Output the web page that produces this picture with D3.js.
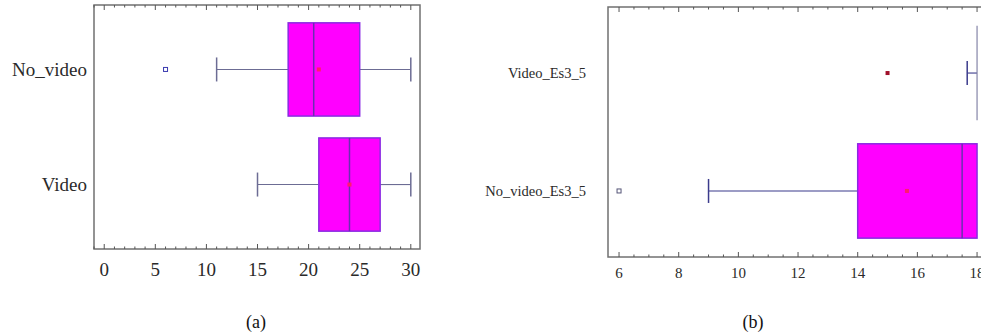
<!DOCTYPE html>
<html>
<head>
<meta charset="utf-8">
<script src="https://cdn.jsdelivr.net/npm/d3@7"></script>
<style>
  body { margin: 0; background: #fff; }
  svg { display: block; }
  svg text { font-family: "Liberation Serif", "DejaVu Serif", serif; }
</style>
</head>
<body>
<div id="chart"></div>
<script>
// panel (a)
const catsA = ["No_video", "Video"];
const minA = [11, 15];
const q1A = [18, 21];
const medA = [20.5, 24];
const q3A = [25, 27];
const maxA = [30, 30];
const meanA = [21, 24];
const outA = [[6], []];
const ticksA = [0, 5, 10, 15, 20, 25, 30];

// panel (b)
const catsB = ["Video_Es3_5", "No_video_Es3_5"];
const minB = [17.67, 9];
const q1B = [18, 14];
const medB = [18, 17.5];
const q3B = [18, 18];
const maxB = [18, 18];
const meanB = [15, 15.65];
const outB = [[], [6]];
const ticksB = [6, 8, 10, 12, 14, 16, 18];

const W = 981, H = 336;
const svg = d3.select("#chart").append("svg").attr("width", W).attr("height", H);

function panel(o) {
  const x = d3.scaleLinear().domain(o.domain).range([o.left, o.right]);
  const y = d3.scalePoint().domain(o.cats).range([o.top, o.bottom]).padding(0.56);
  const bh = y.step() * o.boxFrac;
  const g = svg.append("g");

  // frame
  g.append("rect")
    .attr("x", o.left).attr("y", o.top)
    .attr("width", o.right - o.left).attr("height", o.bottom - o.top)
    .attr("fill", "none").attr("stroke", "#707070").attr("stroke-width", 1.5);

  // inward ticks top and bottom
  const minors = d3.range(Math.ceil(o.domain[0] / o.minor) * o.minor, o.domain[1] + 1e-9, o.minor);
  [o.top, o.bottom].forEach((yy, k) => {
    const dir = k === 0 ? 1 : -1;
    g.selectAll(null).data(minors).enter().append("line")
      .attr("x1", d => x(d)).attr("x2", d => x(d))
      .attr("y1", yy).attr("y2", d => {
        const major = o.ticks.some(t => Math.abs(t - d) < 1e-6);
        return yy + dir * (major ? 5 : 2.5);
      })
      .attr("stroke", "#555").attr("stroke-width", 1);
  });

  // tick labels
  g.selectAll(null).data(o.ticks).enter().append("text")
    .attr("x", d => x(d)).attr("y", o.bottom + o.tickDy)
    .attr("text-anchor", "middle").attr("font-size", o.tickSize).attr("fill", "#2a2a2a")
    .text(d => d);

  // category labels
  g.selectAll(null).data(o.cats).enter().append("text")
    .attr("x", o.labelX).attr("y", d => y(d))
    .attr("dy", "0.35em").attr("text-anchor", "end")
    .attr("font-size", o.labelSize).attr("fill", "#2a2a2a")
    .text(d => d);

  o.cats.forEach((c, i) => {
    const cy = y(c);
    const wc = o.whisker;
    // whiskers
    g.append("line").attr("x1", x(o.min[i])).attr("x2", x(o.q1[i]))
      .attr("y1", cy).attr("y2", cy).attr("stroke", wc).attr("stroke-width", 1.1);
    g.append("line").attr("x1", x(o.q3[i])).attr("x2", x(o.max[i]))
      .attr("y1", cy).attr("y2", cy).attr("stroke", wc).attr("stroke-width", 1.1);
    [o.min[i], o.max[i]].forEach(v => {
      if (v === o.q1[i] || v === o.q3[i]) return;
      g.append("line").attr("x1", x(v)).attr("x2", x(v))
        .attr("y1", cy - o.cap).attr("y2", cy + o.cap)
        .attr("stroke", wc).attr("stroke-width", 1.5);
    });
    // box
    const bw = x(o.q3[i]) - x(o.q1[i]);
    if (bw > 0.5) {
      g.append("rect").attr("x", x(o.q1[i])).attr("y", cy - bh / 2)
        .attr("width", bw).attr("height", bh)
        .attr("fill", "#ff00ff").attr("stroke", "#8a2be2").attr("stroke-width", 1.5);
      // median
      g.append("line").attr("x1", x(o.med[i])).attr("x2", x(o.med[i]))
        .attr("y1", cy - bh / 2).attr("y2", cy + bh / 2)
        .attr("stroke", "#6a2fb0").attr("stroke-width", 1.5);
    } else {
      g.append("line").attr("x1", x(o.med[i])).attr("x2", x(o.med[i]))
        .attr("y1", cy - bh / 2).attr("y2", cy + bh / 2)
        .attr("stroke", "#7a7aa0").attr("stroke-width", 1.1);
    }
    // mean
    const inBox = o.mean[i] >= o.q1[i] && o.mean[i] <= o.q3[i] && bw > 0.5;
    g.append("rect").attr("x", x(o.mean[i]) - 2).attr("y", cy - 2)
      .attr("width", 4).attr("height", 4)
      .attr("fill", inBox ? "#ff1a6e" : "#a0102a");
    // outliers
    o.out[i].forEach(v => {
      g.append("rect").attr("x", x(v) - 2).attr("y", cy - 2)
        .attr("width", 4).attr("height", 4)
        .attr("fill", "#fff").attr("stroke", o.outColor).attr("stroke-width", 1);
    });
  });

  svg.append("text").attr("x", o.capX).attr("y", 328)
    .attr("text-anchor", "middle").attr("font-size", 18).attr("fill", "#111")
    .text(o.caption);
}

panel({
  cats: catsA, min: minA, q1: q1A, med: medA, q3: q3A, max: maxA, mean: meanA, out: outA,
  ticks: ticksA, domain: [-1, 30.9], minor: 1,
  left: 94, right: 420, top: 5, bottom: 249, boxFrac: 0.81,
  labelX: 87, labelSize: 19, tickSize: 19, tickDy: 27, cap: 12,
  whisker: "#6c6c94", outColor: "#3a3ab0", caption: "(a)", capX: 256
});

panel({
  cats: catsB, min: minB, q1: q1B, med: medB, q3: q3B, max: maxB, mean: meanB, out: outB,
  ticks: ticksB, domain: [5.63, 18.3], minor: 0.5,
  left: 608, right: 986, top: 7, bottom: 257, boxFrac: 0.8,
  labelX: 586, labelSize: 14.5, tickSize: 15, tickDy: 21, cap: 12,
  whisker: "#3b3b8c", outColor: "#555577", caption: "(b)", capX: 753
});
</script>
</body>
</html>
